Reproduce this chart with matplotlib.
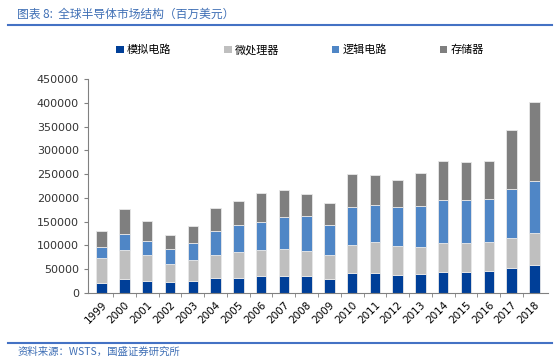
import matplotlib.pyplot as plt
from matplotlib.lines import Line2D
from matplotlib.patches import Patch
import numpy as np

plt.rcParams['font.family'] = ['Noto Sans CJK SC', 'DejaVu Sans']

years = [str(y) for y in range(1999, 2019)]
# million USD
analog = [21000, 29400, 25900, 23100, 25900, 30800, 30800, 35700, 35700, 34900,
          30100, 41300, 41300, 37800, 40000, 44200, 44200, 46900, 51700, 58000]
micro = [52600, 61600, 53200, 37900, 44100, 49700, 54600, 54700, 56000, 52600,
         49000, 60300, 65100, 61000, 57400, 60900, 60900, 61000, 64000, 68100]
logic = [22300, 33700, 30200, 31500, 35800, 50500, 56800, 58900, 67300, 73600,
         64500, 78400, 77800, 81200, 84700, 91100, 91100, 90400, 103000, 108600]
memory = [33600, 52000, 41300, 30100, 34300, 47800, 51300, 60200, 58200, 47100,
          45700, 70900, 63100, 58300, 70300, 82000, 79300, 78500, 124800, 166200]

names = ['模拟电路', '微处理器', '逻辑电路', '存储器']
colors = ['#003f98', '#bfbfbf', '#4f86c6', '#7f7f7f']

fig = plt.figure(figsize=(5.6, 3.6), dpi=100)
ax = fig.add_axes([88 / 560, 1 - 293 / 360, 460 / 560, 214 / 360])

x = np.arange(len(years))
bottom = np.zeros(len(years))
for vals, c in zip([analog, micro, logic, memory], colors):
    ax.bar(x, vals, 0.46, bottom=bottom, color=c, edgecolor='#e8e8e8',
           linewidth=0.6)
    bottom += np.array(vals)

ax.set_xlim(-0.6, len(years) - 0.4)
ax.set_ylim(0, 450000)
ax.set_yticks(np.arange(0, 450001, 50000))
ax.set_xticks(x)
ax.set_xticklabels(years, rotation=45, ha='right', rotation_mode='anchor',
                   family='DejaVu Sans', fontsize=7.5)
ax.set_xticks(x[:-1] + 0.5, minor=True)
ax.tick_params(axis='x', which='major', length=0, pad=5)
ax.tick_params(axis='x', which='minor', length=3, color='#808080')
ax.tick_params(axis='y', length=3, color='#808080', labelsize=8,
               labelcolor='#333333')
for lab in ax.get_yticklabels():
    lab.set_family('DejaVu Sans')
for s in ['top', 'right']:
    ax.spines[s].set_visible(False)
for s in ['left', 'bottom']:
    ax.spines[s].set_color('#808080')

handles = [Patch(facecolor=c, edgecolor='none') for c in colors]
fig.legend(handles, names, loc='center left',
           bbox_to_anchor=(116 / 560, 1 - 50 / 360),
           ncol=4, frameon=False, fontsize=8, handlelength=0.7,
           handleheight=0.7, handletextpad=0.3, columnspacing=4.7,
           borderaxespad=0, borderpad=0)

blue = '#3f6fb5'
fig.text(17 / 560, 1 - 14 / 360, '图表 8:  全球半导体市场结构（百万美元）',
         color=blue, fontsize=8.5, style='italic', va='center')
fig.add_artist(Line2D([8 / 560, 552 / 560], [1 - 25 / 360, 1 - 25 / 360],
                      color='#4472c4', linewidth=1.5))
fig.add_artist(Line2D([8 / 560, 552 / 560], [1 - 343 / 360, 1 - 343 / 360],
                      color='#4472c4', linewidth=1.5))
fig.text(18 / 560, 1 - 352 / 360, '资料来源：WSTS，国盛证券研究所',
         color=blue, fontsize=7.5, style='italic', va='center')

fig.savefig('out.png', dpi=100)
